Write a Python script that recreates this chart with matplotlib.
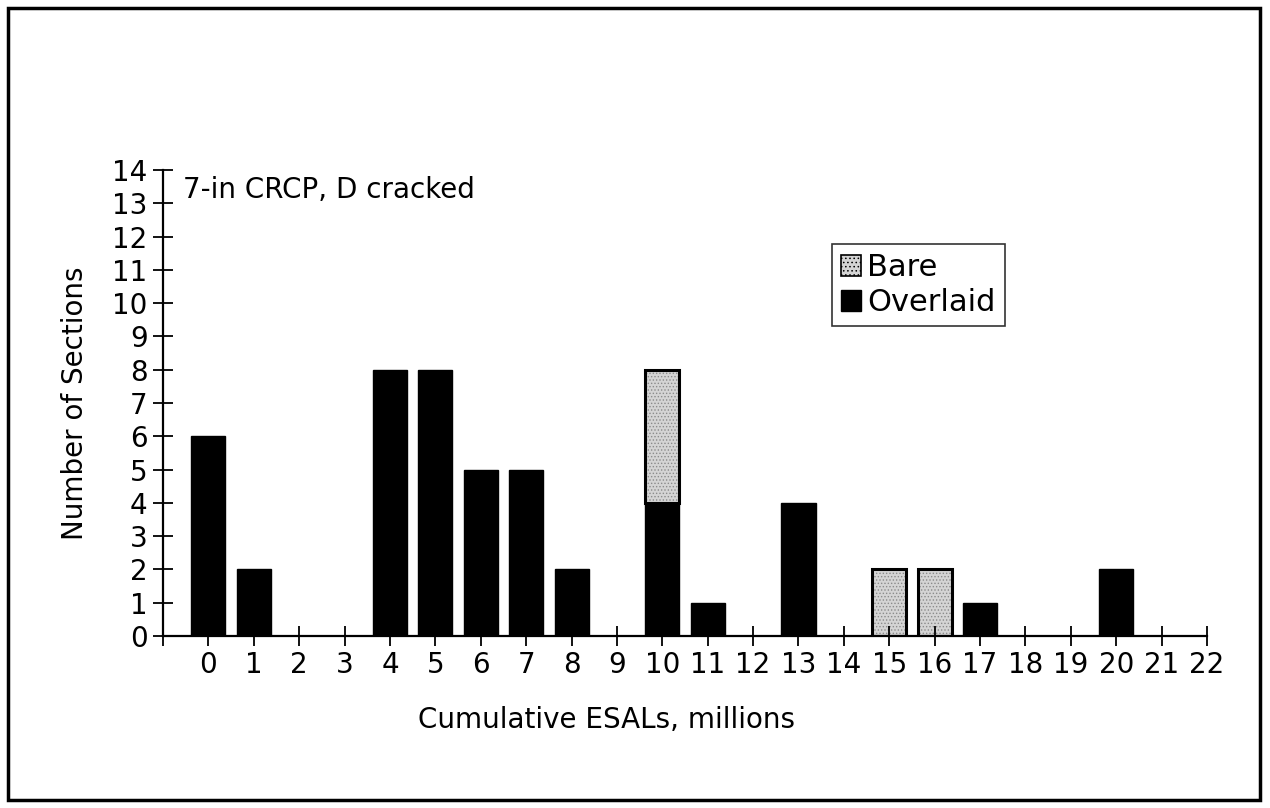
import matplotlib.pyplot as plt
from matplotlib.patches import Patch, Rectangle

plt.rcParams['font.family'] = ['DejaVu Sans']
plt.rcParams['hatch.linewidth'] = 0.6

# ESAL bins (millions) and section counts
esals = list(range(23))
overlaid = [6, 2, 0, 0, 8, 8, 5, 5, 2, 0, 4, 1, 0, 4, 0, 0, 0, 1, 0, 0, 2, 0, 0]
bare = [0, 0, 0, 0, 0, 0, 0, 0, 0, 0, 4, 0, 0, 0, 0, 2, 2, 0, 0, 0, 0, 0, 0]
y_ticks = list(range(15))

fs = 20

fig = plt.figure(figsize=(12.7, 8.08), dpi=100)
ax = fig.add_axes([163 / 1270, 172 / 808, 1044 / 1270, 466 / 808])

# outer frame around the whole figure
fig.patches.append(Rectangle((8 / 1270, 8 / 808), 1252 / 1270, 792 / 808,
                             transform=fig.transFigure, fill=False,
                             edgecolor='black', linewidth=2.5))

w = 0.75
xo = [x for x, v in zip(esals, overlaid) if v > 0]
vo = [v for v in overlaid if v > 0]
ax.bar(xo, vo, width=w, color='black', edgecolor='black', linewidth=1)

xb = [x for x, v in zip(esals, bare) if v > 0]
vb = [v for v in bare if v > 0]
bb = [o for o, v in zip(overlaid, bare) if v > 0]
ax.bar(xb, vb, bottom=bb, width=w, facecolor='#d4d4d4', hatch='.....',
       edgecolor='#8a8a8a', linewidth=0)
ax.bar(xb, vb, bottom=bb, width=w, fill=False, edgecolor='black', linewidth=2.2)

ax.set_xlim(-1, 22)
ax.set_ylim(0, 14)
ax.set_xticks([-1] + esals)
ax.set_xticklabels([''] + [str(e) for e in esals])
ax.set_yticks(y_ticks)
ax.tick_params(axis='both', direction='inout', length=14, width=1.3,
               labelsize=fs, colors='black')
ax.tick_params(axis='x', pad=4)
ax.tick_params(axis='y', pad=4)
for s in ['top', 'right']:
    ax.spines[s].set_visible(False)
for s in ['left', 'bottom']:
    ax.spines[s].set_linewidth(1.6)

ax.set_xlabel('Cumulative ESALs, millions', fontsize=fs)
ax.xaxis.set_label_coords((606 - 163) / 1044, -(706 - 636) / 466)
ax.set_ylabel('Number of Sections', fontsize=fs, labelpad=17)
ax.text(-0.55, 13.4, '7-in CRCP, D cracked', fontsize=fs, va='center')

handles = [Patch(facecolor='#d4d4d4', hatch='....', edgecolor='black', linewidth=1.2),
           Patch(facecolor='black', edgecolor='black')]
leg = ax.legend(handles, ['Bare', 'Overlaid'], loc='upper left',
                bbox_to_anchor=(832 / 1270, 1 - 244 / 808),
                bbox_transform=fig.transFigure, fontsize=22, frameon=True,
                fancybox=False, handlelength=0.65, handleheight=0.65,
                handletextpad=0.2, borderpad=0.3, labelspacing=0.2,
                borderaxespad=0)
leg.get_frame().set_edgecolor('black')
leg.get_frame().set_linewidth(1.2)

fig.savefig('out.png', dpi=100)
